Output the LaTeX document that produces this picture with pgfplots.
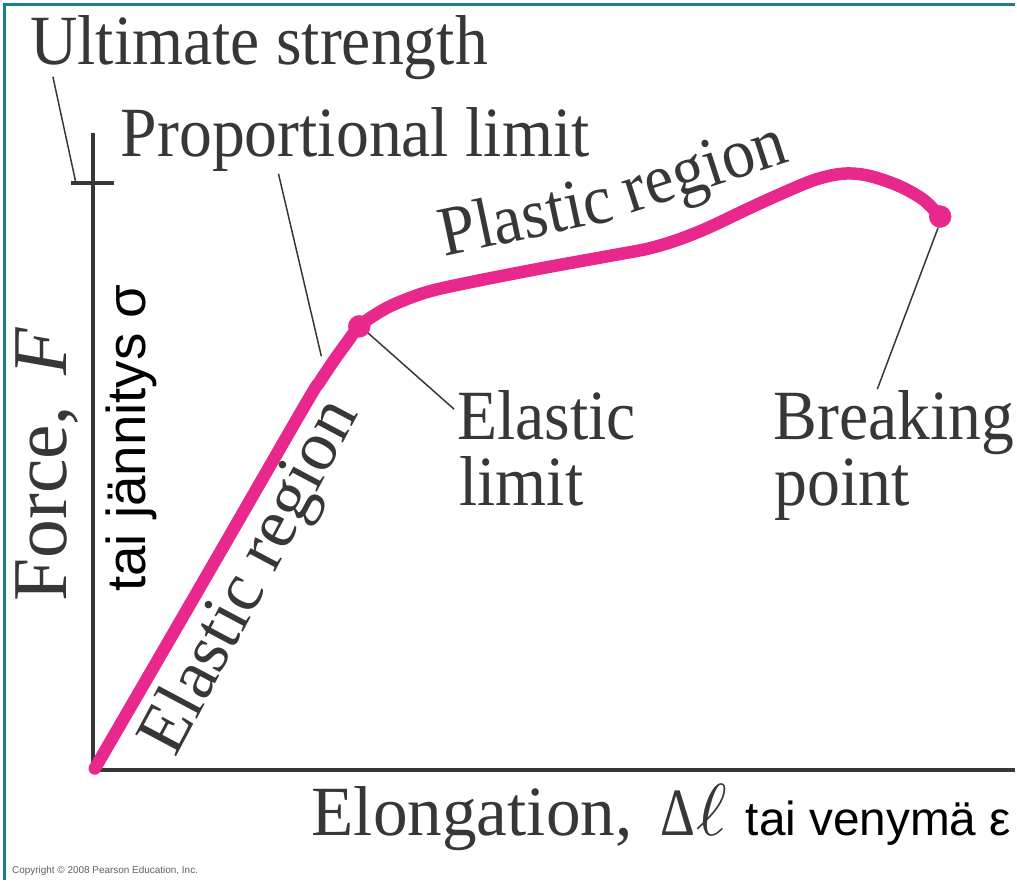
\documentclass[border=0pt]{standalone}
\usepackage{fontspec}
\usepackage{graphicx}
\usepackage{pgfplots}
\pgfplotsset{compat=1.18}
\newfontfamily\serifc{Liberation Serif}[FakeStretch=0.93]
\newfontfamily\serifw{Liberation Serif}[FakeStretch=0.98]
\newfontfamily\serifr{Liberation Serif}
\newfontfamily\sansc{Liberation Sans}
\definecolor{pinkc}{RGB}{232,40,140}
\definecolor{tealc}{RGB}{22,130,130}
\definecolor{ink}{RGB}{55,55,55}
\tikzset{lbl/.style={anchor=base west, inner sep=0pt, text=ink, font=\serifc\fontsize{71}{71}\selectfont}}
\begin{document}
\begin{tikzpicture}
\begin{axis}[
  hide axis, scale only axis, width=1017bp, height=882bp,
  xmin=0, xmax=1017, ymin=0, ymax=882, clip=false,
]
\path (axis cs:0,0) rectangle (axis cs:1017,882);
% frame
\draw[tealc, line width=3bp] (axis cs:4.5,0) -- (axis cs:4.5,877) -- (axis cs:1017,877);
% axes
\draw[ink, line width=4bp] (axis cs:93,749) -- (axis cs:93,110) -- (axis cs:1017,110);
\draw[ink, line width=4bp] (axis cs:71,699) -- (axis cs:114,699);
% leader lines
\draw[ink, line width=1.5bp] (axis cs:53,805) -- (axis cs:76,699);
\draw[ink, line width=1.5bp] (axis cs:279,708) -- (axis cs:322,525);
\draw[ink, line width=1.5bp] (axis cs:368,549) -- (axis cs:455,472);
\draw[ink, line width=1.5bp] (axis cs:940,654) -- (axis cs:879,492);
% curve
\addplot[pinkc, line width=12.5bp, line cap=round, smooth, tension=0.55] coordinates {
(95,112) (200,293) (305,475) (320,499) (334,520) (347,538) (360,555) (378,568)
(397,578) (430,590) (480,601) (547,614) (613,626) (650,633) (680,642) (710,654)
(750,673) (783,688) (817,702) (845,708) (870,706) (900,696) (925,682) (942,665)
};
\addplot[only marks, mark=*, mark size=11bp, pinkc, mark options={draw=pinkc, fill=pinkc}] coordinates {(360,555) (942,665)};
% labels
\node[lbl] at (axis cs:30,817) {Ultimate strength};
\node[lbl] at (axis cs:121,725) {Proportional limit};
\node[lbl, rotate=12] at (axis cs:445,625) {Plastic};
\node[lbl, rotate=18] at (axis cs:632,668) {region};
\node[lbl, rotate=62, font=\serifr\fontsize{71}{71}\selectfont] at (axis cs:176,122) {Elastic region};
\node[lbl] at (axis cs:458,442) {Elastic};
\node[lbl] at (axis cs:460,376) {limit};
\node[lbl] at (axis cs:775,442) {Breaking};
\node[lbl] at (axis cs:776,376) {point};
\node[lbl, rotate=90, font=\serifr\fontsize{78}{78}\selectfont] at (axis cs:67,279) {Force,\hspace{30bp}{\itshape F}};
\node[anchor=base west, inner sep=0pt, text=black, rotate=90, font=\sansc\fontsize{55}{55}\selectfont] at (axis cs:146,289) {tai jännitys σ};
\node[lbl, font=\serifw\fontsize{71}{71}\selectfont] at (axis cs:312,45) {Elongation,};
\node[anchor=base west, inner sep=0pt, text=ink] at (axis cs:662,45) {\scalebox{0.8}[1]{\serifr\fontsize{68}{68}\selectfont Δ}\hspace{1bp}\scalebox{7.4}{$\ell$}};
\node[anchor=base west, inner sep=0pt, text=black, font=\sansc\fontsize{48}{48}\selectfont] at (axis cs:747,45) {tai venymä ε};
\node[anchor=base west, inner sep=0pt, text=ink!80, font=\sansc\fontsize{10}{10}\selectfont] at (axis cs:12,7) {Copyright © 2008 Pearson Education, Inc.};
\end{axis}
\end{tikzpicture}
\end{document}
